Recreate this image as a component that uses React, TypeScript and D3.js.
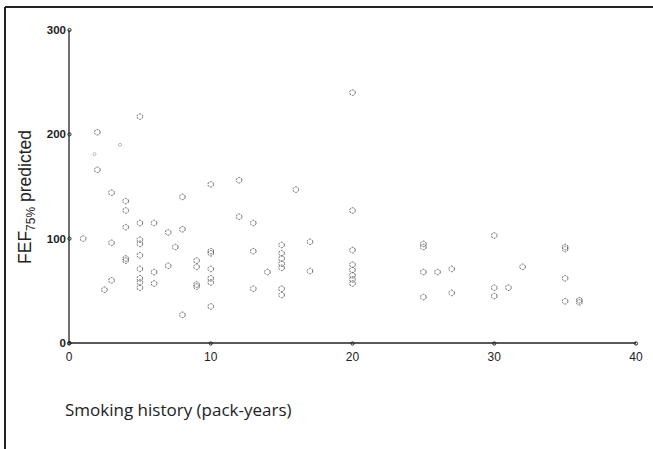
import React from "react";
import * as d3 from "d3";

const packYears = [1, 2, 2, 3, 3, 3, 2.5, 4, 4, 4, 4, 4, 5, 5, 5, 5, 5, 5, 5, 5, 5, 6, 6, 6, 7, 7, 7.5, 8, 8, 8, 9, 9, 9, 9, 10, 10, 10, 10, 10, 10, 10, 12, 12, 13, 13, 13, 14, 15, 15, 15, 15, 15, 15, 15, 16, 17, 17, 20, 20, 20, 20, 20, 20, 20, 20, 25, 25, 25, 25, 26, 27, 27, 30, 30, 30, 31, 32, 35, 35, 35, 35, 36, 36];
const fefPredicted = [100, 202, 166, 144, 96, 60, 51, 136, 127, 111, 81, 79, 217, 115, 99, 95, 84, 71, 62, 58, 53, 115, 68, 57, 106, 74, 92, 140, 109, 27, 79, 73, 56, 54, 152, 88, 86, 71, 62, 58, 35, 156, 121, 115, 88, 52, 68, 94, 86, 81, 76, 72, 52, 46, 147, 97, 69, 240, 127, 89, 75, 70, 65, 61, 57, 95, 92, 68, 44, 68, 71, 48, 103, 53, 45, 53, 73, 92, 90, 62, 40, 41, 39];
const faintPackYears = [1.8, 3.6];
const faintFef = [181, 190];

const xTicks = [0, 10, 20, 30, 40];
const yTicks = [0, 100, 200, 300];

export default function App() {
  const x = d3.scaleLinear().domain([0, 40]).range([69, 636]);
  const y = d3.scaleLinear().domain([0, 300]).range([343, 30]);
  const axisColor = "#222";
  return (
    <div style={{ position: "fixed", left: 0, top: 0, width: 653, height: 449, background: "#fff" }}>
      <svg width={653} height={449} style={{ display: "block" }}>
        <rect x={0} y={0} width={653} height={449} fill="#fff" />
        {/* frame */}
        <line x1={5} y1={7} x2={653} y2={7} stroke="#222" strokeWidth={2} />
        <line x1={5} y1={7} x2={5} y2={449} stroke="#222" strokeWidth={2} />

        {/* axes */}
        <line x1={x(0)} y1={y(0)} x2={x(0)} y2={y(300)} stroke={axisColor} strokeWidth={1.3} />
        <line x1={x(0)} y1={y(0)} x2={x(40)} y2={y(0)} stroke={axisColor} strokeWidth={1.3} />

        {yTicks.map((t) => (
          <g key={"y" + t}>
            <circle cx={x(0) + 0.5} cy={y(t)} r={1.6} fill="none" stroke={axisColor} strokeWidth={1} />
            <text x={x(0) - 3} y={y(t) + 4} textAnchor="end" fontFamily="Liberation Sans, Arial, sans-serif" fontSize={11.5} fontWeight="bold" fill="#222">
              {t}
            </text>
          </g>
        ))}
        {xTicks.map((t) => (
          <g key={"x" + t}>
            <circle cx={x(t)} cy={y(0) + 0.5} r={1.6} fill="none" stroke={axisColor} strokeWidth={1} />
            <text x={x(t)} y={y(0) + 18} textAnchor="middle" fontFamily="Liberation Sans, Arial, sans-serif" fontSize={12} fill="#222">
              {t}
            </text>
          </g>
        ))}

        {/* points */}
        {packYears.map((px, i) => (
          <circle key={"p" + i} cx={x(px)} cy={y(fefPredicted[i])} r={2.8} fill="none" stroke="#666" strokeWidth={1} strokeDasharray="2 1" />
        ))}
        {faintPackYears.map((px, i) => (
          <circle key={"f" + i} cx={x(px)} cy={y(faintFef[i])} r={1.5} fill="none" stroke="#aaa" strokeWidth={0.8} />
        ))}

        {/* y label */}
        <text transform="translate(31,197) rotate(-90)" textAnchor="middle" fontFamily="Liberation Sans, Arial, sans-serif" fontSize={17.5} fill="#222">
          FEF<tspan fontSize={12} dy={4}>75%</tspan><tspan dy={-4}> predicted</tspan>
        </text>

        {/* x label */}
        <text x={65} y={416} fontFamily="Open Sans, Lato, sans-serif" fontSize={17} fill="#222">
          Smoking history (pack-years)
        </text>
      </svg>
    </div>
  );
}
